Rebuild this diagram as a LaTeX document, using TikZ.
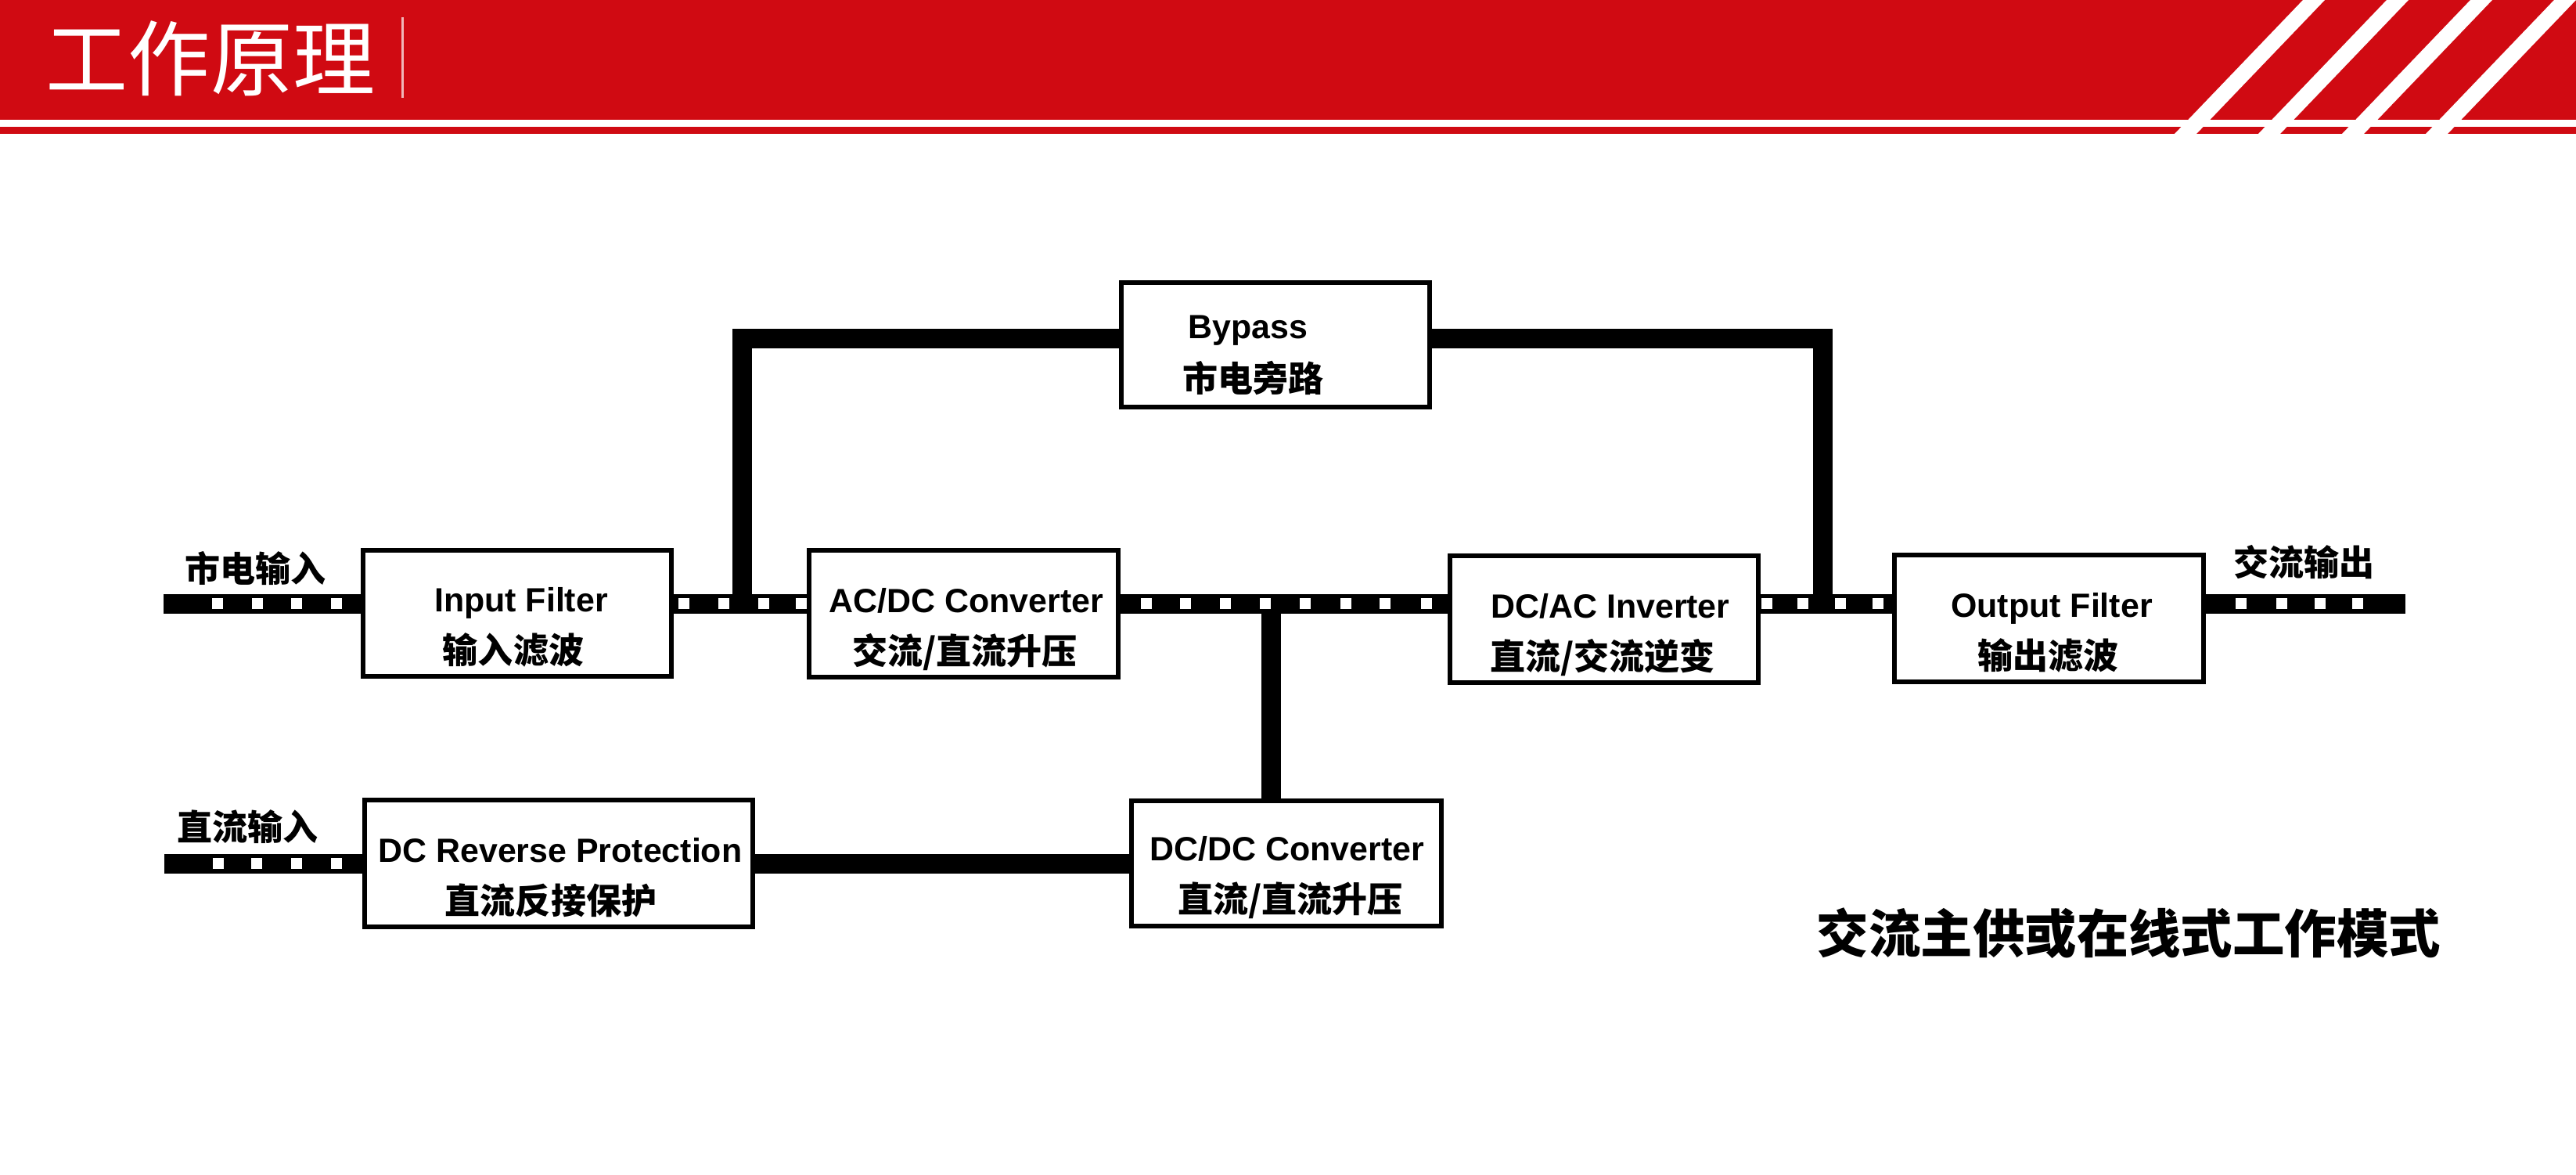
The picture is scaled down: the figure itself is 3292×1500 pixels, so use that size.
\documentclass[tikz,border=0pt]{standalone}
\usepackage{fontspec}
\setmainfont{Liberation Sans}
\newfontfamily\cjk{Noto Sans CJK SC}
\usetikzlibrary{calc}
\definecolor{hdrred}{RGB}{208,10,18}
\tikzset{
  blk/.style={draw=black, line width=0.06cm, fill=white, inner sep=0pt,
              minimum width=3.94cm, minimum height=1.61cm},
  bus/.style={draw=black, line width=0.25cm, line cap=butt, line join=miter},
  entxt/.style={anchor=base, inner sep=0pt, font=\fontsize{12.2pt}{14pt}\selectfont\bfseries},
  cntxt/.style={anchor=base, inner sep=0pt, font=\cjk\fontsize{12.8pt}{15pt}\selectfont\bfseries},
  lbl/.style={anchor=base west, inner sep=0pt, font=\cjk\fontsize{12.8pt}{15pt}\selectfont\bfseries},
  dotsq/.style={fill=white},
}
\begin{document}
\begin{tikzpicture}[x=0.01cm,y=-0.01cm]
\useasboundingbox (0,0) rectangle (3292,1500);
\fill[white] (0,0) rectangle (3292,1500);
% header band
\fill[hdrred] (0,0) rectangle (3292,153);
\fill[hdrred] (0,162) rectangle (3292,171);
\foreach \k in {0,1,2,3} {
  \pgfmathsetmacro\cb{2792+107*\k}
  \pgfmathsetmacro\ct{2957+107*\k}
  \fill[white] (\cb-14,172) -- (\cb+14,172) -- (\ct+14,0) -- (\ct-14,0) -- cycle;
}
\node[anchor=base west, inner sep=0pt, text=white,
      font=\cjk\fontsize{29.9pt}{32pt}\selectfont] (title) at (58,115) {工作原理};
\draw[white!70!hdrred, line width=0.03cm] (514,22) -- (514,125);

% boxes
\node[blk] (IF)   at (661,783.5) {};
\node[blk] (ACDC) at (1231.5,784) {};
\node[blk] (DCAC) at (2050,791) {};
\node[blk] (OF)   at (2618.5,790) {};
\node[blk, minimum height=1.59cm] (BP) at (1630,440.5) {};
\node[blk, minimum width=4.96cm] (DCR) at (714,1103) {};
\node[blk, minimum width=3.96cm, minimum height=1.59cm] (DCDC) at (1644,1103) {};

% junctions and free ends
\coordinate (inA)  at (209,771);
\coordinate (outA) at (3074,771);
\coordinate (jBL)  at (948,771);
\coordinate (jBR)  at (2329,771);
\coordinate (jDC)  at (1624,771);
\coordinate (inD)  at (210,1103);
\coordinate (bpL)  at ($(BP.west)+(0,-8)$);
\coordinate (bpR)  at ($(BP.east)+(0,-8)$);

% connectors
\draw[bus] (inA) -- (inA -| IF.west);
\draw[bus] (IF.east |- inA) -- (ACDC.west |- inA);
\draw[bus] (ACDC.east |- inA) -- (DCAC.west |- inA);
\draw[bus] (DCAC.east |- inA) -- (OF.west |- inA);
\draw[bus] (OF.east |- inA) -- (outA);
\draw[bus] (jBL) |- (bpL);
\draw[bus] (bpR) -| (jBR);
\draw[bus] (jDC) -- (jDC |- DCDC.north);
\draw[bus] (inD) -- (inD -| DCR.west);
\draw[bus] (DCR.east) -- (DCDC.west);

% white dots on AC lines
\foreach \x in {278,329,379,430, 874,925,976,1024,
                1465,1515,1566,1617,1668,1720,1770,1823,
                2258,2304,2352,2400, 2864,2916,2965,3013}
  \fill[dotsq] (\x-7,764) rectangle (\x+7,778);
\foreach \x in {279,328,379,430}
  \fill[dotsq] (\x-7,1096) rectangle (\x+7,1110);

% box texts
\node[entxt] (IFen)   at (666,781)  {Input Filter};
\node[cntxt] (IFcn)   at (656,847)  {输入滤波};
\node[entxt] (ACDCen) at (1235,782) {AC/DC Converter};
\node[cntxt] (ACDCcn) at (1233,848) {交流/直流升压};
\node[entxt] (DCACen) at (2058,789) {DC/AC Inverter};
\node[cntxt] (DCACcn) at (2048,855) {直流/交流逆变};
\node[entxt] (OFen)   at (2622,788) {Output Filter};
\node[cntxt] (OFcn)   at (2617,854) {输出滤波};
\node[entxt] (BPen)   at (1595,432) {Bypass};
\node[cntxt] (BPcn)   at (1601,500) {市电旁路};
\node[entxt] (DCRen)  at (716,1101) {DC Reverse Protection};
\node[cntxt] (DCRcn)  at (704,1167) {直流反接保护};
\node[entxt] (DCDCen) at (1645,1099) {DC/DC Converter};
\node[cntxt] (DCDCcn) at (1649,1165) {直流/直流升压};

% outer labels
\node[lbl] (mainsin) at (236,743)  {市电输入};
\node[lbl] (dcin)    at (226,1073) {直流输入};
\node[lbl] (acout)   at (2854,735) {交流输出};
\node[anchor=base west, inner sep=0pt,
      font=\cjk\fontsize{18.9pt}{21pt}\selectfont\bfseries] (mode) at (2321,1217) {交流主供或在线式工作模式};
\end{tikzpicture}
\end{document}
